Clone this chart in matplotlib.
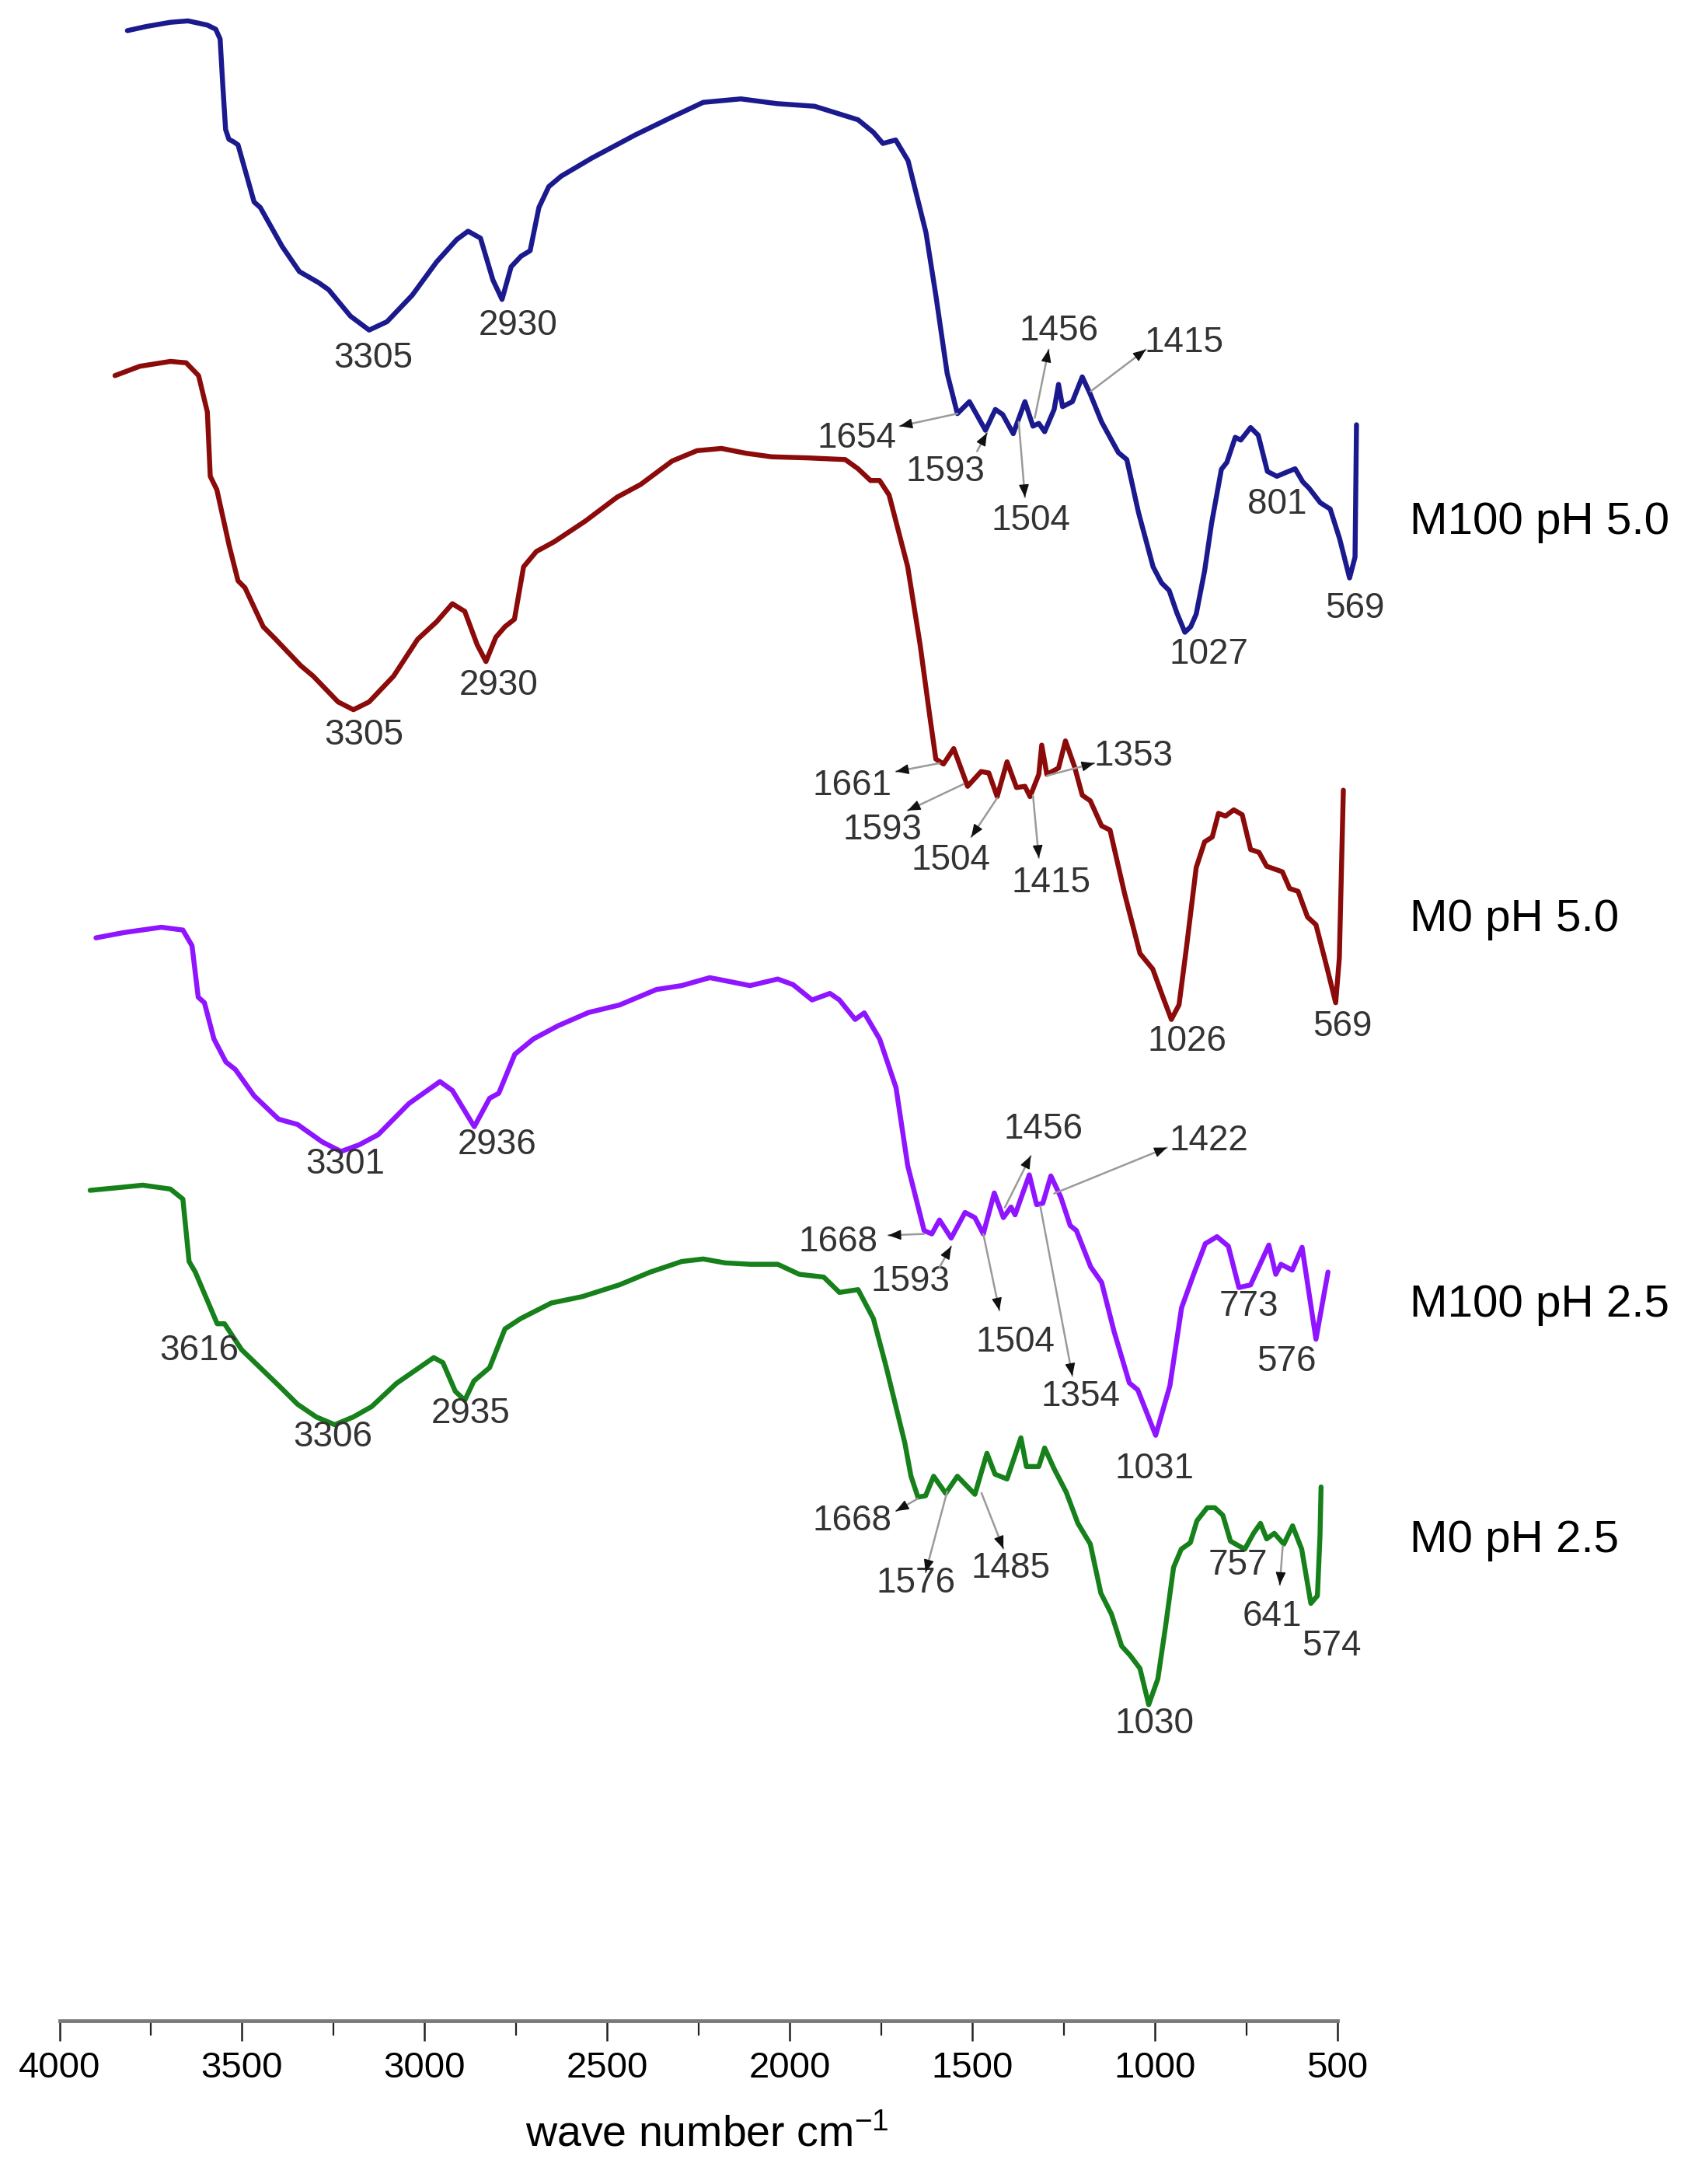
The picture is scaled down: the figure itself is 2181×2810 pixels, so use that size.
import matplotlib
matplotlib.use("Agg")
import matplotlib.pyplot as plt

plt.rcParams['font.family'] = ['Liberation Sans', 'DejaVu Sans']
plt.rcParams['mathtext.fontset'] = 'custom'
plt.rcParams['mathtext.rm'] = 'Liberation Sans'
plt.rcParams['mathtext.it'] = 'Liberation Sans'

# ---------------- data (wavenumber as read on the printed axis, transmittance a.u.) -------------
series_names = ["M100 pH 5.0", "M0 pH 5.0", "M100 pH 2.5", "M0 pH 2.5"]
series_colors = ["#1a1a8e", "#8b0a0a", "#8f14ff", "#16801a"]
series_offsets = [991, 711, 411, 221]

wn_m100_50 = [3814, 3762, 3696, 3648, 3595, 3572, 3560, 3553, 3545, 3536, 3522, 3511, 3467, 3450,
              3390, 3343, 3290, 3263, 3203, 3152, 3103, 3034, 2967, 2912, 2881, 2847, 2813, 2788,
              2763, 2736, 2711, 2687, 2660, 2626, 2542, 2424, 2322, 2237, 2134, 2035, 1932, 1813,
              1771, 1745, 1710, 1676, 1627, 1600, 1569, 1541, 1508, 1464, 1437, 1417, 1388, 1356,
              1334, 1318, 1302, 1276, 1264, 1253, 1226, 1199, 1177, 1146, 1100, 1077, 1045, 1005,
              982, 961, 940, 918, 902, 887, 864, 845, 818, 803, 780, 765, 738, 717, 692, 666, 639,
              616, 595, 578, 547, 520, 494, 467, 452, 448]
t_m100_50 = [438, 441, 444, 445, 442, 439, 432, 400, 367, 360, 358, 356, 315, 311,
             283, 265, 257, 252, 233, 223, 229, 248, 272, 288, 294, 289, 259, 245,
             268.5, 276, 280, 311, 326, 333.5, 346.5, 363, 376, 386.5, 389, 385.6, 383.7, 374,
             365, 357, 359.5, 344.6, 293, 248, 192, 163, 171.6, 151, 166, 162.4, 148.6, 171.6,
             154, 156, 150, 166, 184, 168, 171.6, 189.4, 177, 157, 135, 130, 92, 53,
             41.5, 36, 20, 6, 10, 19, 50, 84, 123, 128, 146, 144, 153, 147.5, 121.5, 118, 121,
             123.4, 114, 109.5, 99, 94.5, 73, 45, 60, 155]

wn_m0_50 = [3848, 3780, 3696, 3653, 3619, 3595, 3587, 3569, 3535, 3511, 3492, 3442, 3408, 3339,
            3305, 3237, 3195, 3152, 3085, 3019, 2967, 2924, 2890, 2856, 2832, 2805, 2780, 2754,
            2729, 2694, 2645, 2559, 2473, 2408, 2322, 2254, 2187, 2119, 2050, 1949, 1848, 1813,
            1779, 1754, 1728, 1677, 1643, 1617, 1600, 1579, 1551, 1513, 1476, 1455, 1432, 1405,
            1379, 1356, 1342, 1318, 1310, 1296, 1264, 1245, 1220, 1199, 1177, 1146, 1123, 1083,
            1041, 1006, 978, 955, 934, 913, 887, 864, 843, 826, 807, 784, 761, 738, 715, 694,
            651, 631, 608, 582, 559, 530, 505, 495, 484]
t_m0_50 = [470.3, 477, 480.5, 479.5, 470.3, 444.2, 398, 388.4, 348, 323, 318, 290, 281, 262,
           254.5, 236, 230.4, 236, 254.5, 281, 293.6, 306.5, 301, 277, 265, 282.4, 290, 295.4,
           333, 344, 351, 366, 383, 392.2, 409, 416.4, 418, 414.5, 412, 411.2, 410, 403.4,
           395, 395, 384.6, 333, 277, 226.6, 195, 191.4, 202.5, 175.4, 186, 185, 168, 193,
           174.5, 175.4, 168, 184, 205, 184, 188.5, 208, 189.4, 169, 165, 147, 144, 98.3,
           55.4, 44.2, 24, 8, 18.5, 61, 117, 135.5, 139, 156, 154, 158.5, 155, 130, 128, 118,
           114, 102, 100, 81.5, 76, 46.4, 20, 52, 172.6]

wn_m100_25 = [3900, 3823, 3721, 3662, 3637, 3620, 3603, 3577, 3544, 3518, 3467, 3400, 3348, 3280,
              3229, 3179, 3127, 3043, 2958, 2924, 2864, 2822, 2797, 2753, 2702, 2635, 2551, 2466,
              2365, 2296, 2219, 2161, 2109, 2033, 1991, 1939, 1890, 1864, 1821, 1796, 1754, 1709,
              1677, 1632, 1611, 1590, 1558, 1520, 1493, 1470, 1440, 1415, 1394, 1383, 1344, 1324,
              1307, 1285, 1258, 1232, 1215, 1176, 1146, 1112, 1070, 1047, 998, 959, 927, 894, 862,
              830, 799, 770, 738, 688, 669, 655, 624, 597, 559, 526]
t_m100_25 = [366.6, 370.4, 374.2, 372.2, 361, 324, 320, 294, 277.4, 272, 253.2, 236.4, 232.6, 220,
             213.2, 218, 225.3, 247.6, 263.4, 257, 231, 251.4, 255, 283, 294, 303.4, 313, 318.4,
             329.5, 332.3, 338, 335, 332.3, 337, 333, 322, 326.7, 322, 308, 312.7, 294, 259,
             203, 156.4, 154, 164, 151, 169.4, 165.7, 154, 183.4, 165.7, 173.3, 167.7, 196.4, 175,
             176, 195.6, 180.6, 160, 156.4, 130.4, 119.2, 84, 47, 42, 9.4, 45, 101, 125, 147,
             152, 145.2, 115.5, 117.4, 146, 125, 132.2, 128, 144.4, 78.4, 126.6]

wn_m0_25 = [3916, 3840, 3772, 3696, 3662, 3645, 3628, 3568, 3548, 3501, 3399, 3348, 3297, 3246,
            3195, 3145, 3077, 2975, 2950, 2916, 2890, 2865, 2822, 2780, 2737, 2653, 2568, 2466,
            2382, 2296, 2237, 2177, 2109, 2033, 1974, 1907, 1864, 1813, 1771, 1737, 1685, 1668,
            1649, 1628, 1606, 1573, 1541, 1493, 1460, 1438, 1405, 1367, 1352, 1318, 1302, 1276,
            1243, 1211, 1177, 1148, 1119, 1091, 1068, 1041, 1017, 992, 971, 949, 928, 903, 885,
            857, 836, 814, 793, 779, 754, 730, 711, 694, 673, 647, 623, 598, 573, 555, 548, 545]
t_m0_25 = [375.3, 377.2, 379, 376.2, 369, 324.2, 316.6, 279.5, 279.5, 260.8, 235, 221.7, 212.6, 207,
           212.6, 220, 236.7, 255.2, 251.6, 231, 224.5, 238.4, 248, 275.8, 283.2, 294.4, 299, 307.5,
           316.6, 324.2, 326, 323.2, 322.2, 322.2, 315, 313, 302, 304, 283.2, 249.6, 194, 170,
           155, 156, 170, 157.7, 170, 157, 186.5, 171.5, 168, 197.6, 177, 177, 190.3, 175.3,
           158.6, 136.2, 121.3, 86, 71, 48, 41.4, 32, 6, 24.5, 62, 104.5, 117.6, 122.3, 138,
           147.4, 147.4, 142, 123.4, 121.3, 117.6, 129, 136.2, 125, 129, 121.3, 134.4, 117.6, 78.7,
           84.2, 127, 162.3]

series_wn = [wn_m100_50, wn_m0_50, wn_m100_25, wn_m0_25]
series_t = [t_m100_50, t_m0_50, t_m100_25, t_m0_25]

# peak labels: (text, text position (wn, y), arrow tail, arrow head)  -- None = no arrow
peak_labels = [
    ("3305", (3141, 1194), None, None),
    ("2930", (2744, 1217), None, None),
    ("1654", (1817, 1136), (1541, 1154), (1699, 1145)),
    ("1593", (1573, 1112), (1487, 1127), (1460, 1140)),
    ("1504", (1340, 1077), (1373, 1148), (1356, 1094)),
    ("1456", (1264, 1213), (1329, 1151), (1291, 1200)),
    ("1415", (921, 1205), (1176, 1170), (1025, 1200)),
    ("1027", (852, 981), None, None),
    ("801", (665, 1089), None, None),
    ("569", (452, 1014), None, None),
    ("3305", (3167, 923), None, None),
    ("2930", (2797, 959), None, None),
    ("1661", (1829, 887), (1590, 903), (1709, 897)),
    ("1593", (1747, 855), (1524, 888), (1677, 869)),
    ("1504", (1558, 833), (1432, 878), (1503, 850)),
    ("1415", (1285, 817), (1334, 880), (1318, 835)),
    ("1353", (1058, 908), (1296, 894), (1166, 903)),
    ("1026", (913, 703), None, None),
    ("569", (486, 714), None, None),
    ("3301", (3217, 615), None, None),
    ("2936", (2801, 629), None, None),
    ("1668", (1867, 559), (1632, 565), (1730, 564)),
    ("1593", (1670, 531), (1590, 541), (1558, 556)),
    ("1504", (1382, 487), (1470, 565), (1426, 510)),
    ("1354", (1204, 448), (1314, 585), (1226, 463)),
    ("1456", (1306, 640), (1411, 584), (1340, 621)),
    ("1422", (852, 632), (1276, 594), (967, 627)),
    ("1031", (1001, 396), None, None),
    ("773", (742, 513), None, None),
    ("576", (639, 473), None, None),
    ("3616", (3617, 481), None, None),
    ("3306", (3251, 419), None, None),
    ("2935", (2874, 436), None, None),
    ("1668", (1829, 359), (1649, 375), (1709, 366)),
    ("1576", (1655, 314), (1569, 380), (1628, 322)),
    ("1485", (1394, 325), (1475, 379), (1415, 339)),
    ("1030", (1001, 213), None, None),
    ("757", (772, 327), None, None),
    ("641", (679, 290), (650, 341), (658, 313)),
    ("574", (517, 269), None, None),
]

name_positions = [(303, 1076), (303, 791), (303, 514), (303, 345)]

x_major = [4000, 3500, 3000, 2500, 2000, 1500, 1000, 500]
x_minor = [3750, 3250, 2750, 2250, 1750, 1250, 750]

# ---------------- figure ----------------
W, H = 2181, 2810
fig = plt.figure(figsize=(W / 100, H / 100), dpi=100)
ax = fig.add_axes([76.5 / W, 210 / H, 1644.5 / W, 2600 / H])
ax.set_xlim(4000, 500)
ax.set_ylim(0, 1451)

for wn, t, off, col in zip(series_wn, series_t, series_offsets, series_colors):
    ax.plot(wn, [v + off for v in t], color=col, lw=4.6, solid_joinstyle='round',
            solid_capstyle='round', clip_on=False)

text_color = '#333333'
for label, tpos, tail, head in peak_labels:
    ax.text(tpos[0], tpos[1], label, fontsize=33, color=text_color, ha='center', va='center')
    if tail is not None:
        ax.annotate('', xy=head, xytext=tail,
                    arrowprops=dict(arrowstyle='-', color='#9a9a9a', lw=1.8,
                                    shrinkA=0, shrinkB=0))
        near = (head[0] + (tail[0] - head[0]) * 0.02, head[1] + (tail[1] - head[1]) * 0.02)
        ax.annotate('', xy=head, xytext=near,
                    arrowprops=dict(arrowstyle='-|>,head_length=1.0,head_width=0.4',
                                    color='#111111', lw=1.0, shrinkA=0, shrinkB=0))

for name, pos in zip(series_names, name_positions):
    ax.text(pos[0], pos[1], name, fontsize=42, color='black', ha='left', va='center',
            clip_on=False)

for s in ['top', 'right', 'left']:
    ax.spines[s].set_visible(False)
ax.spines['bottom'].set_color('#7a7a7a')
ax.spines['bottom'].set_linewidth(3.5)
ax.yaxis.set_visible(False)
ax.set_xticks(x_major)
ax.set_xticks(x_minor, minor=True)
ax.set_xticklabels([str(v) for v in x_major])
ax.tick_params(axis='x', which='major', direction='out', length=19, width=1.8,
               color='#222222', labelsize=34, pad=9, labelcolor='black')
ax.tick_params(axis='x', which='minor', direction='out', length=14, width=1.6,
               color='#222222')
ax.set_xlabel('wave number cm$^{-1}$', fontsize=40, va='center')
ax.xaxis.set_label_coords((910 - 76.5) / 1644.5, -(2747 - 2600) / 2600)
ax.patch.set_visible(False)

fig.savefig('out.png', dpi=100, facecolor='white')
